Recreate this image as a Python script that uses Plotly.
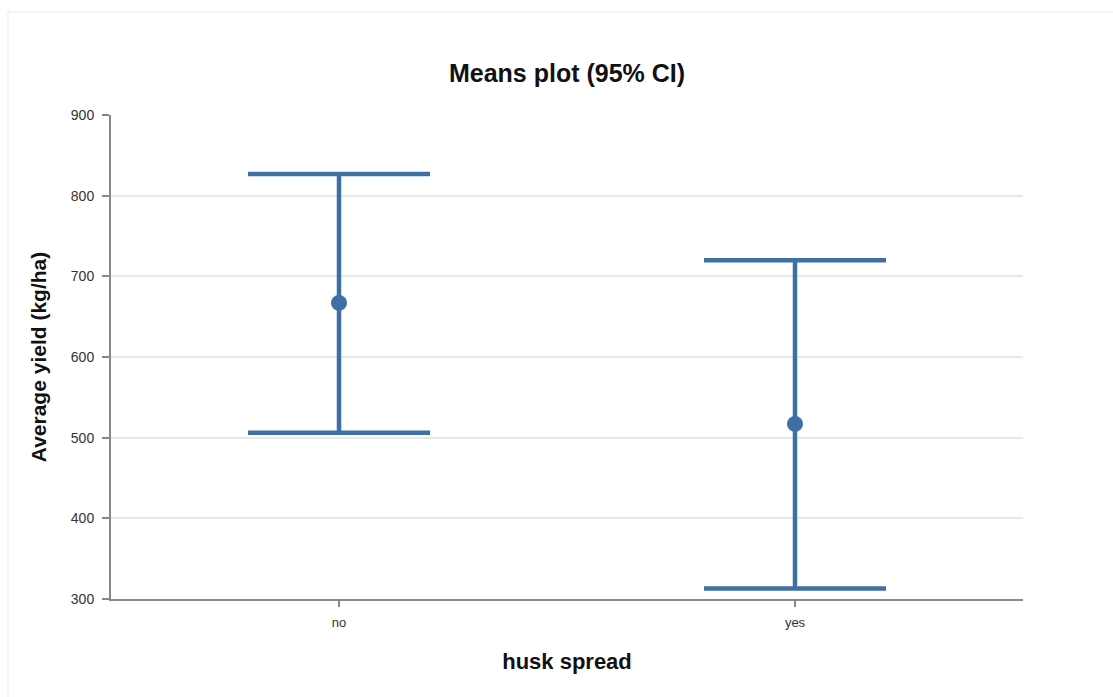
import plotly.graph_objects as go

categories = ["no", "yes"]
means = [667, 517]
ci_low = [506, 313]
ci_high = [827, 720]

color = "#3e70a6"
fig = go.Figure()
fig.add_trace(go.Scatter(
    x=categories, y=means, mode="markers",
    marker=dict(size=16, color=color),
    error_y=dict(type="data", symmetric=False,
                 array=[h - m for h, m in zip(ci_high, means)],
                 arrayminus=[m - l for m, l in zip(means, ci_low)],
                 color=color, thickness=4.5, width=91),
    showlegend=False, hoverinfo="skip",
))

axis_col = "#888888"
fig.update_layout(
    width=1113, height=697,
    margin=dict(l=111, r=90, t=115, b=98),
    paper_bgcolor="white", plot_bgcolor="white",
    font=dict(family="Liberation Sans, Arial, sans-serif", color="#222"),
    title=dict(text="<b>Means plot (95% CI)</b>", x=0.5, xref="paper",
               y=1 - 73 / 697, yanchor="middle",
               font=dict(size=25, color="#111")),
    xaxis=dict(type="category", range=[-0.5, 1.5], showgrid=False,
               showline=True, linecolor=axis_col, linewidth=2,
               ticks="outside", ticklen=6, tickwidth=1.5, tickcolor=axis_col,
               ticklabelstandoff=4,
               tickfont=dict(size=13, color="#333"),
               title=dict(text="<b>husk spread</b>", font=dict(size=22, color="#111"), standoff=25),
               zeroline=False, fixedrange=True),
    yaxis=dict(range=[300, 900], dtick=100, showgrid=True, gridcolor="#e8e8e8", gridwidth=1.5,
               showline=True, linecolor=axis_col, linewidth=2,
               ticks="outside", ticklen=7, tickwidth=1.5, tickcolor=axis_col,
               ticklabelstandoff=5,
               tickfont=dict(size=14, color="#333"),
               title=dict(text="<b>Average yield (kg/ha)</b>", font=dict(size=21, color="#111"), standoff=18),
               zeroline=False, fixedrange=True),
)
for xd in (0, 1):
    fig.add_shape(type="line", xref="x domain", yref="y", x0=xd, x1=xd,
                  ysizemode="pixel", yanchor=300, y0=0, y1=-8,
                  line=dict(color=axis_col, width=1.5))
fig.add_shape(type="rect", xref="paper", yref="paper",
              x0=-0.1129, x1=1.15, y0=-0.25, y1=1.2128,
              line=dict(color="#ececec", width=1), layer="below")

fig.write_html("out.html")
